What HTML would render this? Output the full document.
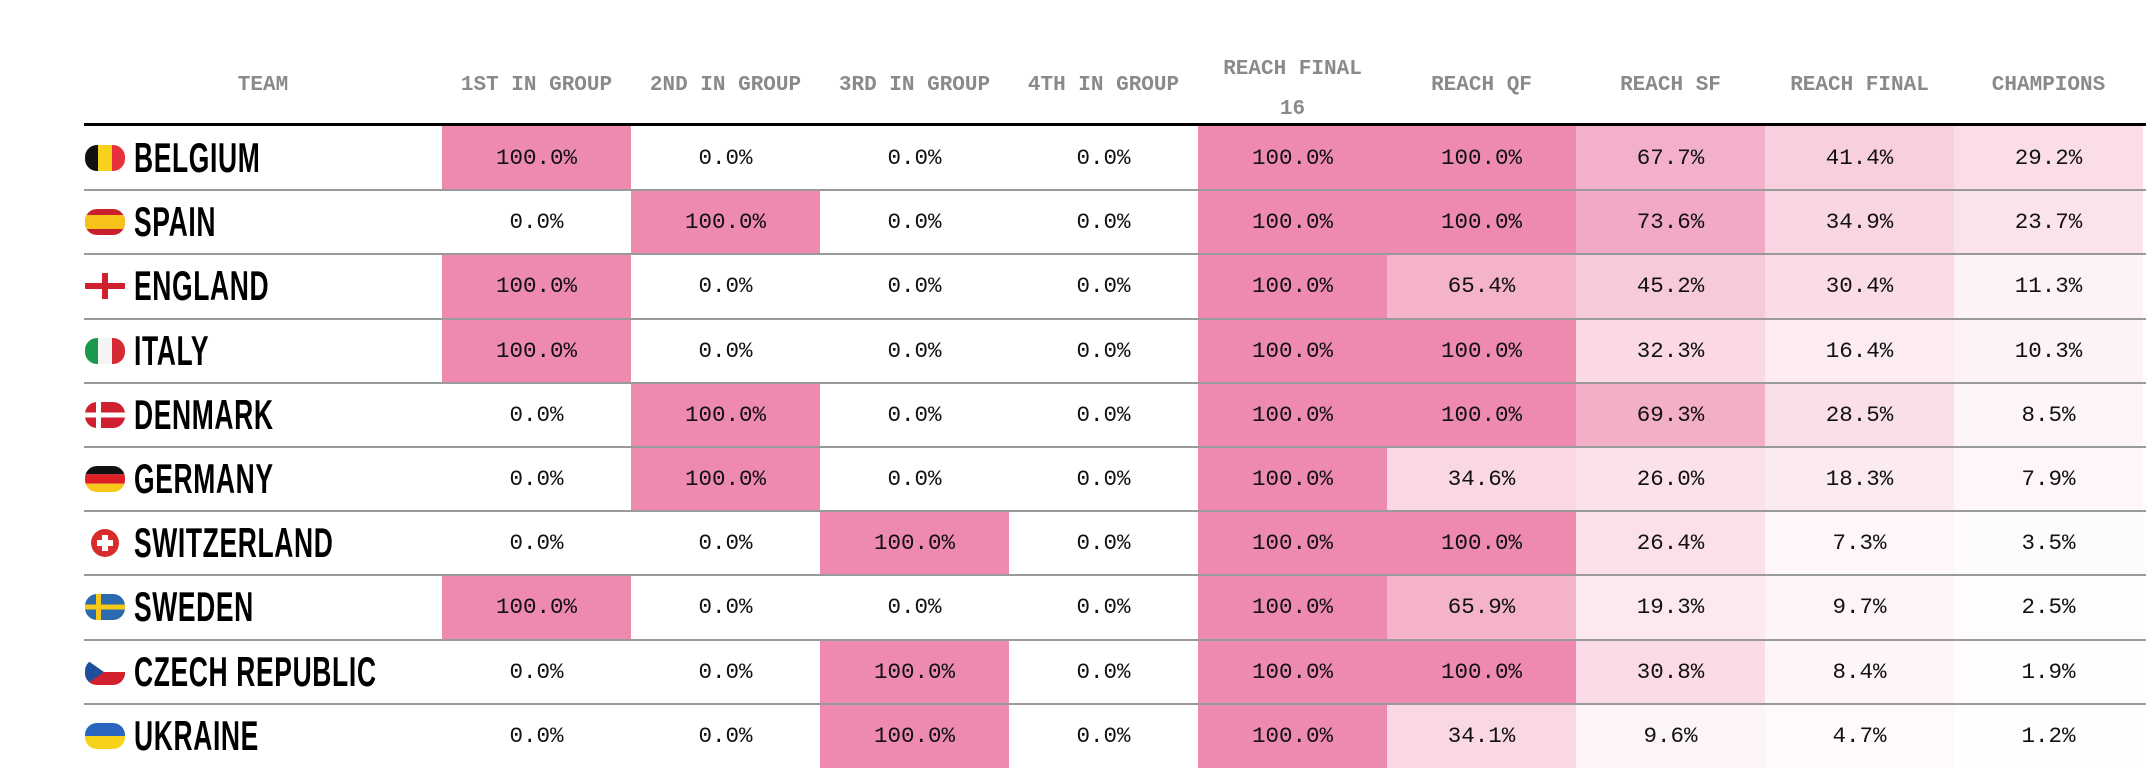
<!DOCTYPE html>
<html><head><meta charset="utf-8">
<style>
html,body{margin:0;padding:0;background:#fff;width:2146px;height:762px;overflow:hidden;}
#wrap{position:absolute;left:0;top:0;width:2146px;height:762px;}
.hdr{position:absolute;font-family:"Liberation Mono",monospace;font-weight:bold;font-size:21px;color:#8a8a8a;text-align:center;line-height:28px;}
.cell{position:absolute;font-family:"Liberation Mono",monospace;font-size:22.5px;color:#111;text-align:center;}
.team{position:absolute;font-family:"Liberation Sans",sans-serif;font-weight:bold;font-size:42px;color:#000;letter-spacing:1px;transform:scaleX(0.63);transform-origin:0 50%;white-space:nowrap;}
.line{position:absolute;left:84px;width:2062px;}
</style></head><body>
<div id="wrap"></div>
<script>
const teams=["BELGIUM","SPAIN","ENGLAND","ITALY","DENMARK","GERMANY","SWITZERLAND","SWEDEN","CZECH REPUBLIC","UKRAINE"];
const headers=["1ST IN GROUP","2ND IN GROUP","3RD IN GROUP","4TH IN GROUP","REACH FINAL<br>16","REACH QF","REACH SF","REACH FINAL","CHAMPIONS"];
const first=[100,0,100,100,0,0,0,100,0,0];
const second=[0,100,0,0,100,100,0,0,0,0];
const third=[0,0,0,0,0,0,100,0,100,100];
const fourth=[0,0,0,0,0,0,0,0,0,0];
const r16=[100,100,100,100,100,100,100,100,100,100];
const qf=[100,100,65.4,100,100,34.6,100,65.9,100,34.1];
const sf=[67.7,73.6,45.2,32.3,69.3,26.0,26.4,19.3,30.8,9.6];
const fin=[41.4,34.9,30.4,16.4,28.5,18.3,7.3,9.7,8.4,4.7];
const champ=[29.2,23.7,11.3,10.3,8.5,7.9,3.5,2.5,1.9,1.2];
const cols=[first,second,third,fourth,r16,qf,sf,fin,champ];
const colNames=["first","second","third","fourth","r16","qf","sf","final","champions"];

const W=document.getElementById('wrap');
const X0=442,CW=189,Y0=126,RH=64.2,TX=84;
function color(v){const t=v/100;const r=Math.round(255-(255-238)*t),g=Math.round(255-(255-138)*t),b=Math.round(255-(255-176)*t);return `rgb(${r},${g},${b})`;}
function flag(i){
 let s='<svg width="42" height="28" viewBox="0 0 42 28">';
 s+='<defs><clipPath id="cp'+i+'"><rect x="1" y="1" width="40" height="26" rx="12"/></clipPath></defs><g clip-path="url(#cp'+i+')">';
 switch(i){
  case 0:s+='<rect x="0" width="14" height="28" fill="#111"/><rect x="14" width="14" height="28" fill="#f7d21a"/><rect x="28" width="14" height="28" fill="#e8313f"/>';break;
  case 1:s+='<rect width="42" height="28" fill="#c8202c"/><rect y="7" width="42" height="14" fill="#f7c21a"/>';break;
  case 2:s+='<rect width="42" height="28" fill="#fff"/><rect x="18" width="6" height="28" fill="#d0202f"/><rect y="11" width="42" height="6" fill="#d0202f"/>';break;
  case 3:s+='<rect width="14" height="28" fill="#199a4a"/><rect x="14" width="14" height="28" fill="#f4f4f4"/><rect x="28" width="14" height="28" fill="#d62a35"/>';break;
  case 4:s+='<rect width="42" height="28" fill="#d0202f"/><rect x="12" width="5" height="28" fill="#fff"/><rect y="11.5" width="42" height="5" fill="#fff"/>';break;
  case 5:s+='<rect width="42" height="9.3" fill="#111"/><rect y="9.3" width="42" height="9.4" fill="#dd1f26"/><rect y="18.7" width="42" height="9.3" fill="#f7c81a"/>';break;
  case 6:s+='</g><circle cx="21" cy="14" r="14" fill="#d82c2c"/><rect x="18" y="6" width="6" height="16" fill="#fff"/><rect x="13" y="11" width="16" height="6" fill="#fff"/><g>';break;
  case 7:s+='<rect width="42" height="28" fill="#2a6bb0"/><rect x="12" width="5" height="28" fill="#f7c81a"/><rect y="11.5" width="42" height="5" fill="#f7c81a"/>';break;
  case 8:s+='<rect width="42" height="14" fill="#fff"/><rect y="14" width="42" height="14" fill="#d2202f"/><polygon points="0,0 20,14 0,28" fill="#1d4f9a"/>';break;
  case 9:s+='<rect width="42" height="14" fill="#2a66c0"/><rect y="14" width="42" height="14" fill="#f7d21a"/>';break;
 }
 s+='</g></svg>';return s;
}
let h=document.createElement('div');h.className='hdr';h.style.left=TX+'px';h.style.width=(X0-TX)+'px';h.style.top='72px';h.textContent='TEAM';


W.appendChild(h);
headers.forEach((t,j)=>{
 const d=document.createElement('div');d.className='hdr';d.style.left=(X0+j*CW)+'px';d.style.width=CW+'px';
 d.style.top=(t.includes('<br>')?'50px':'72px');d.style.lineHeight=(t.includes('<br>')?'40px':'28px');d.innerHTML=t;
 
 
 W.appendChild(d);
});
teams.forEach((name,i)=>{
 const y=Y0+i*RH;
 cols.forEach((arr,j)=>{
  const v=arr[i];const c=document.createElement('div');c.className='cell';
  c.style.left=(X0+j*CW)+'px';c.style.width=CW+'px';c.style.top=y+'px';c.style.height=RH+'px';c.style.lineHeight=RH+'px';
  c.style.background=color(v);c.textContent=v.toFixed(1)+'%';
  
  
  W.appendChild(c);
 });
 const f=document.createElement('div');f.style.position='absolute';f.style.left='84px';f.style.top=(y+18)+'px';f.innerHTML=flag(i);
 
 
 W.appendChild(f);
 const t=document.createElement('div');t.className='team';t.style.left='134px';t.style.top=y+'px';t.style.lineHeight=RH+'px';t.textContent=name;
 
 
 W.appendChild(t);
 if(i>0){const l=document.createElement('div');l.className='line';l.style.top=(y-1)+'px';l.style.height='2px';l.style.background='#9a9a9a';
 
 
 W.appendChild(l);}
});
const hl=document.createElement('div');hl.className='line';hl.style.top='123px';hl.style.height='3px';hl.style.background='#000';


W.appendChild(hl);
</script>
</body></html>
